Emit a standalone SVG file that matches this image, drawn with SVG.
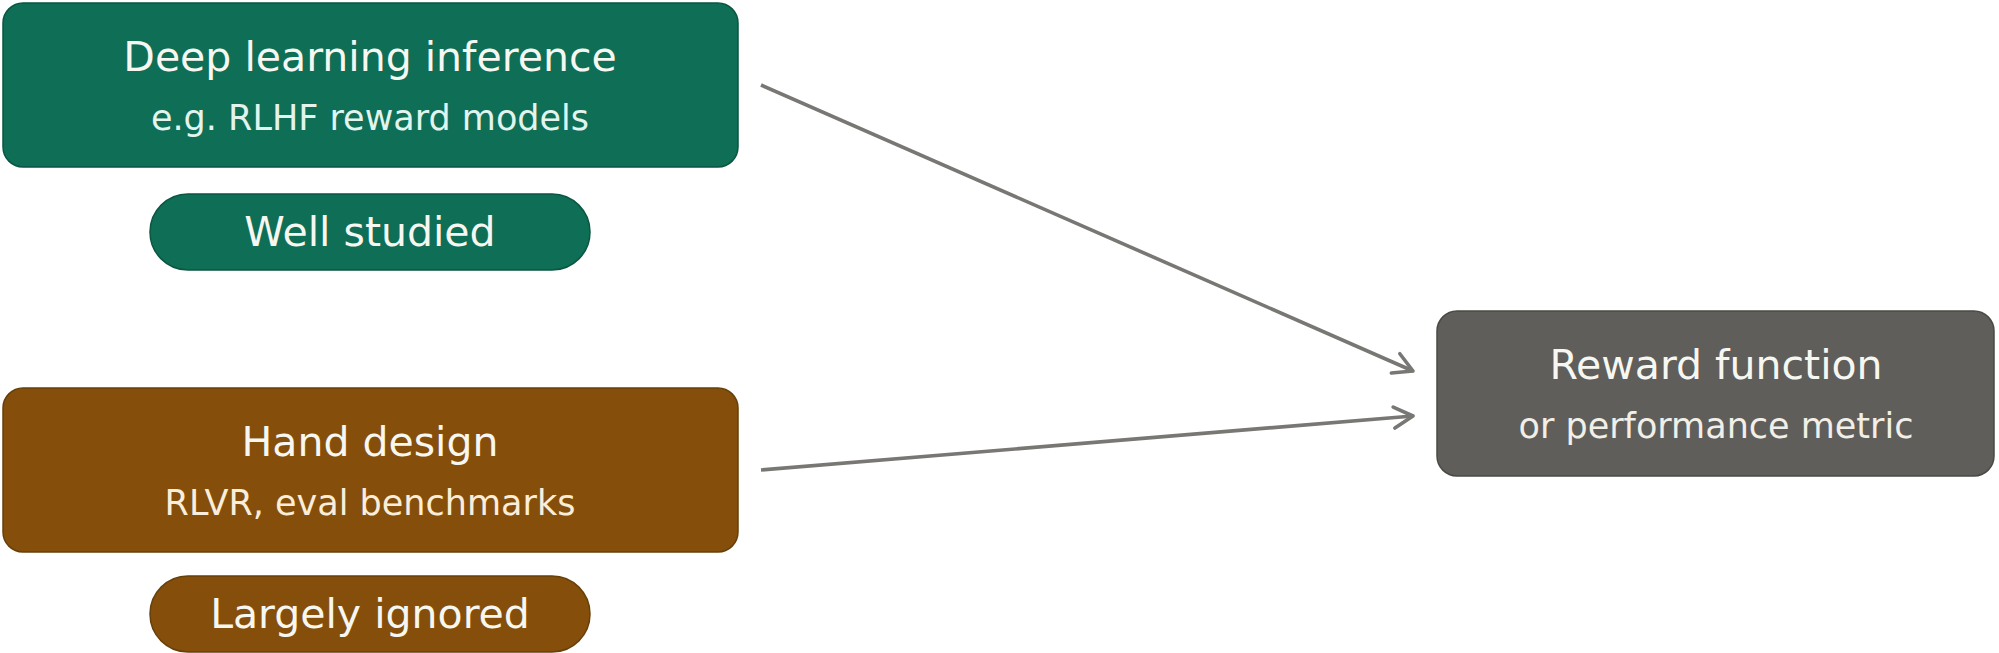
<svg xmlns="http://www.w3.org/2000/svg" width="1999" height="653" viewBox="0 0 1999 653">
<style>
.t{font-family:"DejaVu Sans","Liberation Sans",sans-serif;text-anchor:middle}
.h{font-size:41px;fill:#F7F7F2}
.s{font-size:35px}
.green{fill:#0F6E56;stroke:#0A5642;stroke-width:1.5}
.brown{fill:#854F0B;stroke:#66400A;stroke-width:1.5}
.gray{fill:#5F5E5A;stroke:#4A4945;stroke-width:1.5}
.conn{stroke:#787774;stroke-width:3.6;fill:none}
</style>
<defs>
<marker id="arr" viewBox="0 0 24 26" refX="21" refY="13" markerWidth="24" markerHeight="26" markerUnits="userSpaceOnUse" orient="auto">
<path d="M2,2.5 L21,13 L2,23.5" fill="none" stroke="#787774" stroke-width="3.6" stroke-linecap="round" stroke-linejoin="round"/>
</marker>
</defs>
<rect width="1999" height="653" fill="#FFFFFF"/>
<g id="connectors">
<line class="conn" x1="761" y1="85" x2="1413" y2="371" marker-end="url(#arr)"/>
<line class="conn" x1="761" y1="470" x2="1413" y2="416" marker-end="url(#arr)"/>
</g>
<g id="deep-learning">
<rect class="green" x="3" y="3" width="735" height="164" rx="20"/>
<text class="t h" x="370" y="71">Deep learning inference</text>
<text class="t s" x="370" y="130" fill="#E1F5EE">e.g. RLHF reward models</text>
</g>
<g id="well-studied">
<rect class="green" x="150" y="194" width="440" height="76" rx="38"/>
<text class="t h" x="370" y="246">Well studied</text>
</g>
<g id="hand-design">
<rect class="brown" x="3" y="388" width="735" height="164" rx="20"/>
<text class="t h" x="370" y="456">Hand design</text>
<text class="t s" x="370" y="515" fill="#FAEEDA">RLVR, eval benchmarks</text>
</g>
<g id="largely-ignored">
<rect class="brown" x="150" y="576" width="440" height="76" rx="38"/>
<text class="t h" x="370" y="628">Largely ignored</text>
</g>
<g id="reward-function">
<rect class="gray" x="1437" y="311" width="557" height="165" rx="20"/>
<text class="t h" x="1716" y="379">Reward function</text>
<text class="t s" x="1716" y="438" fill="#F1EFE8">or performance metric</text>
</g>
</svg>
